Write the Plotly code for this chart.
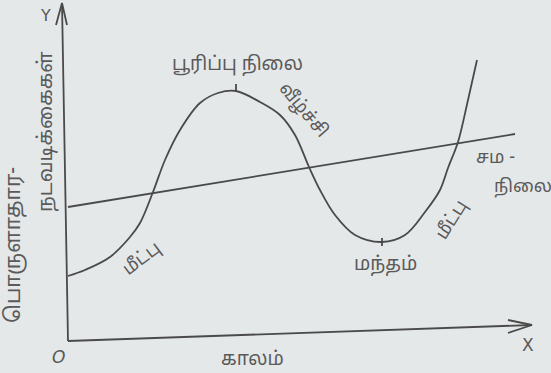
import plotly.graph_objects as go

# trade cycle curve (time, activity), origin at the axes corner
cycle_t = [0, 17, 42, 62, 72, 85, 97, 112, 132, 150, 168, 192, 212, 227, 241, 252, 267, 287, 314,
           337, 357, 372, 380, 390, 400, 409]
cycle_y = [65, 71, 84, 104, 118, 149, 181, 211, 238, 248, 250, 239, 226, 206, 174, 151, 126, 106, 99,
           106, 129, 151, 173, 199, 241, 281]

# long run trend (equilibrium) line
trend_t = [0, 447]
trend_y = [134, 207]

# axes as drawn (slightly tilted by hand)
xaxis_t = [0, 464]
xaxis_y = [0, 16]
yaxis_t = [0, -6]
yaxis_y = [0, 338]

peak = (168, 250)
trough = (314, 99)

ink = "#4a4a4a"
txt = "#5a5a5a"
tamil = "Noto Sans Tamil, Lohit Tamil, Latha, sans-serif"

fig = go.Figure()
line = dict(color=ink, width=1.8)
fig.add_scatter(x=cycle_t, y=cycle_y, mode="lines", line=dict(color=ink, width=1.8, shape="spline"))
fig.add_scatter(x=trend_t, y=trend_y, mode="lines", line=line)
fig.add_scatter(x=xaxis_t, y=xaxis_y, mode="lines", line=line)
fig.add_scatter(x=yaxis_t, y=yaxis_y, mode="lines", line=line)
# arrow heads
fig.add_scatter(x=[440, 464, 440], y=[21, 16, 8], mode="lines", line=line)
fig.add_scatter(x=[-12, -6, -1], y=[316, 338, 316], mode="lines", line=line)
# small ticks at peak and trough
fig.add_scatter(x=[peak[0], peak[0]], y=[peak[1], peak[1] + 7], mode="lines", line=line)
fig.add_scatter(x=[trough[0], trough[0]], y=[trough[1] - 4, trough[1] + 4], mode="lines", line=line)

def note(x, y, s, size=18, angle=0):
    fig.add_annotation(x=x, y=y, text=s, showarrow=False, textangle=angle,
                       font=dict(family=tamil, size=size, color=txt))

note(169, 276, "பூரிப்பு நிலை", size=19)
note(235, 231, "வீழ்ச்சி", angle=50)
note(74, 82, "மீட்பு", angle=-37)
note(317, 76, "மந்தம்", size=19)
note(384, 121, "மீட்பு", angle=-58)
note(427, 183, "சம -")
note(455, 154, "நிலை")
note(184, -19, "காலம்", size=19)
note(-53, 96, "பொருளாதார-", size=21, angle=-90)
note(-21, 209, "நடவடிக்கைகள்", size=20, angle=-90)
fig.add_annotation(x=-10, y=-16, text="<i>O</i>", showarrow=False,
                   font=dict(family="DejaVu Sans", size=17, color=txt))
fig.add_annotation(x=460, y=-4, text="X", showarrow=False,
                   font=dict(family="DejaVu Sans", size=17, color=txt))
fig.add_annotation(x=-23, y=326, text="Y", showarrow=False,
                   font=dict(family="DejaVu Sans", size=16, color=txt))

fig.update_layout(
    width=551, height=373,
    margin=dict(l=0, r=0, t=0, b=0),
    paper_bgcolor="#e5e8e9", plot_bgcolor="#e5e8e9",
    showlegend=False,
    xaxis=dict(range=[-68, 483], visible=False, fixedrange=True),
    yaxis=dict(range=[-32, 341], visible=False, fixedrange=True),
)
fig.write_html("out.html", config={"displayModeBar": False},
               post_script="document.body.style.margin='0';")
